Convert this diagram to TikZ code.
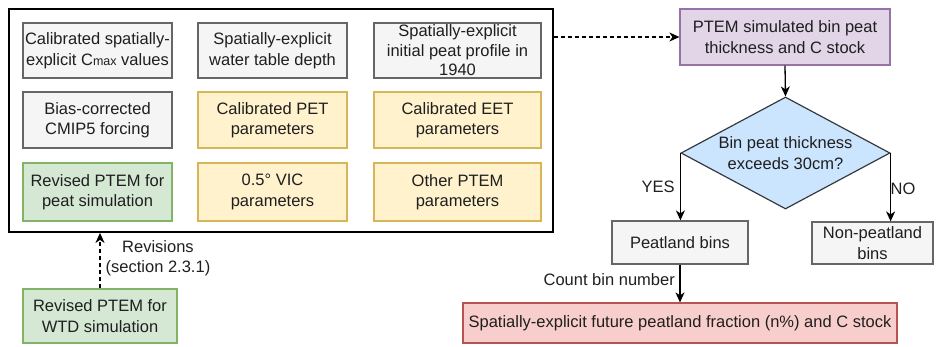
\documentclass[tikz,border=0pt]{standalone}
\usepackage{fontspec}
\setmainfont{Liberation Sans}
\usetikzlibrary{shapes.geometric,arrows.meta}

\definecolor{txt}{HTML}{1F1F1F}
\definecolor{greyfill}{HTML}{F5F5F5}
\definecolor{greyline}{HTML}{666666}
\definecolor{yelfill}{HTML}{FFF2CC}
\definecolor{yelline}{HTML}{D6B656}
\definecolor{grnfill}{HTML}{D5E8D4}
\definecolor{grnline}{HTML}{82B366}
\definecolor{purfill}{HTML}{E1D5E7}
\definecolor{purline}{HTML}{9673A6}
\definecolor{bluefill}{HTML}{CCE5FF}
\definecolor{blueline}{HTML}{36393D}
\definecolor{redfill}{HTML}{F8CECC}
\definecolor{redline}{HTML}{B85450}

\tikzset{
  basefont/.style={font=\fontsize{16.5}{20.5}\selectfont, text=txt},
  box/.style={basefont, draw, line width=1.2pt, align=center, inner sep=0pt},
  greybox/.style={box, fill=greyfill, draw=greyline},
  yelbox/.style={box, fill=yelfill, draw=yelline},
  grnbox/.style={box, fill=grnfill, draw=grnline},
  purbox/.style={box, fill=purfill, draw=purline},
  redbox/.style={box, fill=redfill, draw=redline},
  colA/.style={minimum width=149pt},
  colB/.style={minimum width=149pt},
  colC/.style={minimum width=167pt},
  conn/.style={draw=black, line width=1.3pt, -{Stealth[length=10pt,width=9pt,inset=3pt]}},
  dashconn/.style={conn, dash pattern=on 4pt off 3pt},
  lbl/.style={basefont, align=center, inner sep=1pt}
}

\begin{document}
\begin{tikzpicture}[x=1pt, y=-1pt]
  \useasboundingbox (0,0) rectangle (936,346);

  % frame holding the model inputs
  \node[draw=black, line width=1.8pt, minimum width=544pt, minimum height=223pt, inner sep=0pt] (inputs) at (281,120.5) {};

  % first row
  \node[greybox, colA, minimum height=55pt] (cmax) at (97.5,50.5) {Calibrated spatially-\\explicit C{\fontsize{12.5}{14}\selectfont max} values};
  \node[greybox, colB, minimum height=55pt] (wtd) at (272.5,50.5) {Spatially-explicit\\water table depth};
  \node[greybox, colC, minimum height=55pt, font=\fontsize{16.5}{19.5}\selectfont] (init) at (457.5,50.5) {Spatially-explicit\\initial peat profile in\\1940};

  % second row
  \node[greybox, colA, minimum height=56pt] (cmip) at (97.5,120) {Bias-corrected\\CMIP5 forcing};
  \node[yelbox, colB, minimum height=56pt] (pet) at (272.5,120) {Calibrated PET\\parameters};
  \node[yelbox, colC, minimum height=56pt] (eet) at (457.5,120) {Calibrated EET\\parameters};

  % third row
  \node[grnbox, colA, minimum height=58pt] (peatsim) at (97.5,192) {Revised PTEM for\\peat simulation};
  \node[yelbox, colB, minimum height=58pt] (vic) at (272.5,192) {0.5° VIC\\parameters};
  \node[yelbox, colC, minimum height=58pt] (other) at (457.5,192) {Other PTEM\\parameters};

  % model used for the water table
  \node[grnbox, minimum width=154pt, minimum height=54pt] (wtdsim) at (100,316) {Revised PTEM for\\WTD simulation};

  % right-hand flow
  \node[purbox, minimum width=210pt, minimum height=56pt] (ptem) at (785,37) {PTEM simulated bin peat\\thickness and C stock};
  \node[diamond, draw=blueline, fill=bluefill, line width=1.2pt, minimum width=209pt, minimum height=112pt, inner sep=0pt] (test) at (785.5,153) {};
  \node[lbl] (testtext) at (785.5,153) {Bin peat thickness\\exceeds 30cm?};
  \node[greybox, minimum width=136pt, minimum height=43pt] (peatbins) at (680,242.5) {Peatland bins};
  \node[greybox, minimum width=121pt, minimum height=42pt] (nonpeat) at (872.5,243) {Non-peatland\\bins};
  \node[redbox, minimum width=434pt, minimum height=40pt] (future) at (680,323) {Spatially-explicit future peatland fraction (n\%) and C stock};

  % connectors
  \draw[dashconn] (wtdsim.north) -- (wtdsim.north |- inputs.south);
  \node[lbl] (revlbl) at (158,258) {Revisions\\(section 2.3.1)};

  \draw[dashconn] (inputs.east |- ptem.west) -- (ptem.west);
  \draw[conn] (ptem.south) -- (test.north);
  \draw[conn] (test.west) -- (test.west |- peatbins.north);
  \draw[conn] (test.east) -- (test.east |- nonpeat.north);
  \draw[conn] (peatbins.south) -- (future.north);

  \node[lbl] (yes) at (658,187) {YES};
  \node[lbl] (no) at (903,189) {NO};
  \node[lbl, anchor=east] (count) at (676,280) {Count bin number};
\end{tikzpicture}
\end{document}
